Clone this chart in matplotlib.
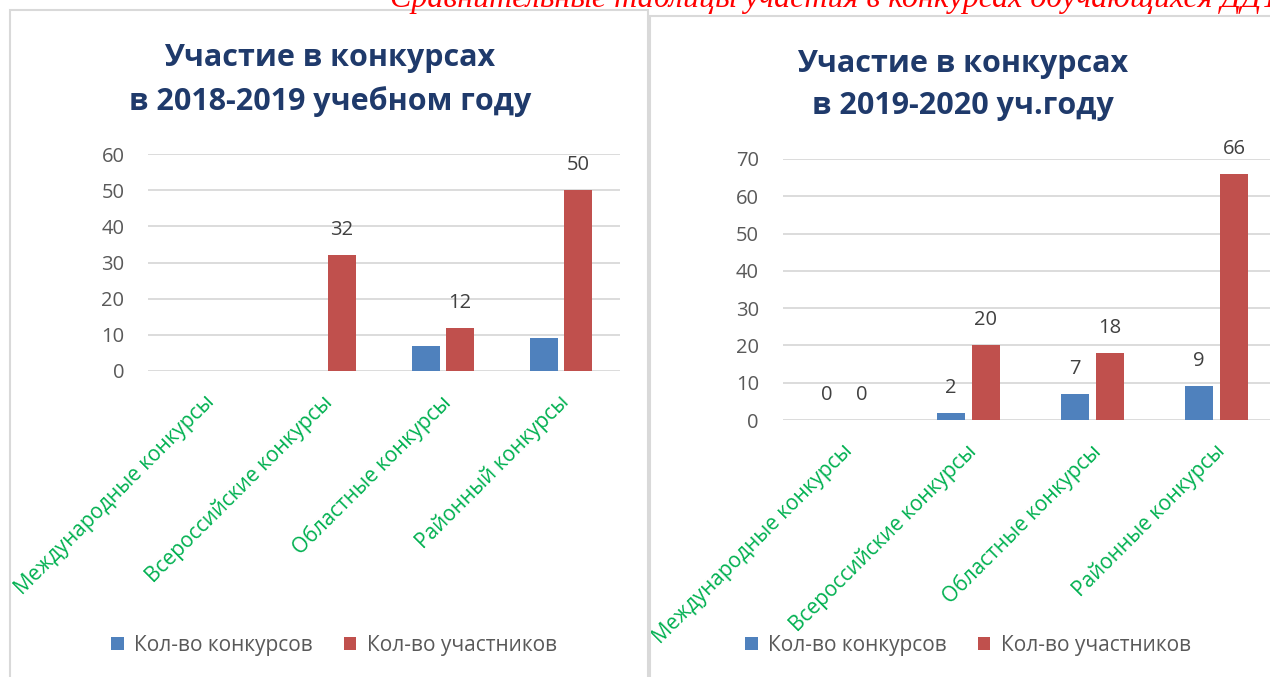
import matplotlib
matplotlib.use("Agg")
import matplotlib.pyplot as plt
from matplotlib.patches import Rectangle
import numpy as np

W, H = 1270, 677

# ---- data ----
categories_1 = ["Международные конкурсы", "Всероссийские конкурсы", "Областные конкурсы", "Районный конкурсы"]
contests_1 = [0, 0, 7, 9]
participants_1 = [0, 32, 12, 50]
title_1 = "Участие в конкурсах\nв 2018-2019 учебном году"

categories_2 = ["Международные конкурсы", "Всероссийские конкурсы", "Областные конкурсы", "Районные конкурсы"]
contests_2 = [0, 2, 7, 9]
participants_2 = [0, 20, 18, 66]
title_2 = "Участие в конкурсах\nв 2019-2020 уч.году"

series_names = ["Кол-во конкурсов", "Кол-во участников"]
header = "Сравнительные таблицы участия в конкурсах обучающихся ДДТ"

BLUE = "#4F81BD"
RED = "#C0504D"
GRID = "#D9D9D9"
TICK = "#595959"
LABEL = "#404040"
GREEN = "#00B050"
TITLE = "#1F3A6B"

plt.rcParams['font.family'] = ['Open Sans', 'DejaVu Sans']

fig = plt.figure(figsize=(W / 100, H / 100), dpi=100)


def fx(px):
    return px / W


def fy(py):
    return 1 - py / H


def axes_px(x0, x1, ytop, ybot):
    return fig.add_axes([fx(x0), fy(ybot), fx(x1) - fx(x0), fy(ytop) - fy(ybot)])


# panel borders
fig.add_artist(Rectangle((fx(10), fy(700)), fx(648) - fx(10), fy(10) - fy(700),
                         transform=fig.transFigure, fill=False, edgecolor="#D9D9D9", lw=1.5))
fig.add_artist(Rectangle((fx(650), fy(700)), fx(1290) - fx(650), fy(16) - fy(700),
                         transform=fig.transFigure, fill=False, edgecolor="#D9D9D9", lw=1.5))

# header (the reference shows only its lower part at the top edge)
fig.text(fx(390), fy(7), header, color="#FF0000", fontsize=23, style="italic",
         family="Liberation Serif", ha="left", va="baseline")


def draw(ax, cats, s1, s2, ymax, ystep, label_all, off, width):
    x = np.arange(len(cats))
    b1 = ax.bar(x - off, s1, width, color=BLUE, label=series_names[0], zorder=3)
    b2 = ax.bar(x + off, s2, width, color=RED, label=series_names[1], zorder=3)
    ax.set_xlim(-0.5, len(cats) - 0.5)
    ax.set_ylim(0, ymax)
    ax.set_yticks(np.arange(0, ymax + 1, ystep))
    ax.yaxis.grid(True, color=GRID, lw=1.3, zorder=0)
    ax.set_axisbelow(True)
    for s in ax.spines.values():
        s.set_visible(False)
    ax.tick_params(axis="y", length=0, pad=17, labelsize=14.5, labelcolor=TICK)
    ax.tick_params(axis="x", length=0)
    ax.set_xticks([])
    for i, c in enumerate(cats):
        ax.annotate(c, xy=(i, 0), xycoords="data", xytext=(-2, -15), textcoords="offset points",
                    rotation=45, rotation_mode="anchor", ha="right", va="top",
                    color=GREEN, fontsize=15, annotation_clip=False)
    for i in range(len(cats)):
        if label_all:
            ax.annotate(str(s1[i]), xy=(i - off, s1[i]), xytext=(0, 18), textcoords="offset points",
                        ha="center", va="center", color=LABEL, fontsize=14.5)
        if label_all or s2[i] != 0:
            ax.annotate(str(s2[i]), xy=(i + off, s2[i]), xytext=(0, 18), textcoords="offset points",
                        ha="center", va="center", color=LABEL, fontsize=14.5)
    return b1, b2


ax1 = axes_px(148, 620, 154, 371)
draw(ax1, categories_1, contests_1, participants_1, 60, 10, False, 0.144, 0.229)
ax2 = axes_px(782.5, 1278.5, 159, 420)
draw(ax2, categories_2, contests_2, participants_2, 70, 10, True, 0.141, 0.226)

fig.text(fx(330), fy(80), title_1, ha="center", va="center", fontsize=22, fontweight="bold",
         color=TITLE, linespacing=1.55)
fig.text(fx(963), fy(85), title_2, ha="center", va="center", fontsize=22, fontweight="bold",
         color=TITLE, linespacing=1.55)

for ax, cx in ((ax1, 334), (ax2, 968)):
    ax.legend(loc="center", bbox_to_anchor=(fx(cx), fy(645)), bbox_transform=fig.transFigure,
              ncol=2, frameon=False, fontsize=15, labelcolor=TICK, handlelength=0.6,
              handleheight=0.6, handletextpad=0.5, columnspacing=1.5)

fig.savefig("out.png", dpi=100)
